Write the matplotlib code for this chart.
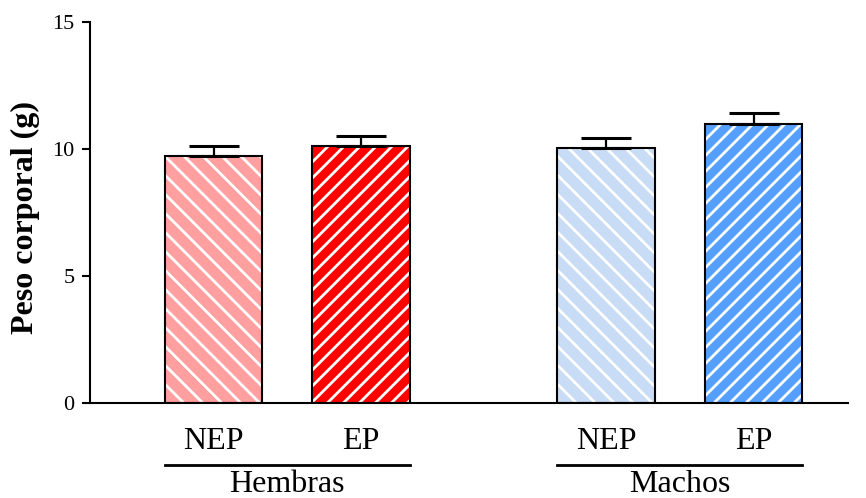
import numpy as np
import matplotlib
matplotlib.use("Agg")
import matplotlib.pyplot as plt
from matplotlib.collections import LineCollection
from matplotlib.transforms import IdentityTransform, blended_transform_factory

# Body weight (g), mean and SEM per group
groups = ["Hembras", "Machos"]
conditions = ["NEP", "EP", "NEP", "EP"]
means = [9.72, 10.12, 10.04, 10.98]
sems = [0.40, 0.40, 0.40, 0.44]
colors = ["#FF9F9F", "#FF0000", "#C8DCF6", "#55A0FF"]

positions = [0.0, 1.0, 2.66, 3.66]
bar_width = 0.66
stripe_dir = [-1, 1, -1, 1]          # -1: "\" stripes, +1: "/" stripes
stripe_step = [19, 16, 19, 16]       # horizontal stripe spacing in pixels

plt.rcParams["font.family"] = ["Liberation Serif", "DejaVu Serif"]

fig = plt.figure(figsize=(8.66, 4.98), dpi=100)
ax = fig.add_axes([90 / 866, 1 - 403 / 498, (848 - 90) / 866, (403 - 22) / 498])
ax.set_xlim(-0.837, 4.30)
ax.set_ylim(0, 15)

bars = ax.bar(positions, means, width=bar_width, color=colors, edgecolor="none",
              linewidth=0, zorder=1)

# White diagonal stripes clipped to each bar
for bar, d, step in zip(bars, stripe_dir, stripe_step):
    (x0, y0), (x1, y1) = ax.transData.transform(
        [(bar.get_x(), 0), (bar.get_x() + bar.get_width(), bar.get_height())])
    w, h = x1 - x0, y1 - y0
    segs = []
    t = -h
    while t < w + h:
        if d > 0:
            segs.append([(x0 + t, y0), (x0 + t + h, y1)])
        else:
            segs.append([(x0 + t, y1), (x0 + t + h, y0)])
        t += step
    lc = LineCollection(segs, colors="white", linewidths=2.0,
                        transform=IdentityTransform(), zorder=2)
    ax.add_collection(lc)
    lc.set_clip_path(bar)

ax.bar(positions, means, width=bar_width, fill=False, edgecolor="black",
       linewidth=1.5, zorder=3)

ax.errorbar(positions, means, yerr=[np.zeros(len(sems)), sems], fmt="none",
            ecolor="black", elinewidth=1.6, capsize=18, capthick=2.2, zorder=4)

# Axes styling
for side in ("top", "right"):
    ax.spines[side].set_visible(False)
ax.spines["left"].set_linewidth(1.5)
ax.spines["bottom"].set_linewidth(1.5)
ax.set_yticks([0, 5, 10, 15])
ax.tick_params(axis="y", direction="out", length=6, width=1.5, pad=5, labelsize=16)
ax.set_xticks(positions)
ax.set_xticklabels(conditions)
ax.tick_params(axis="x", length=0, pad=17, labelsize=23)

ax.set_ylabel("Peso corporal (g)", fontsize=23, fontweight="bold")
ax.yaxis.set_label_coords(-0.066, 0.486)

# Group underlines and names
trans = blended_transform_factory(ax.transData, ax.transAxes)
group_pos = [(positions[0], positions[1]), (positions[2], positions[3])]
for name, (a, b) in zip(groups, group_pos):
    ax.plot([a - bar_width / 2, b + bar_width / 2], [-0.163, -0.163],
            color="black", lw=2, transform=trans, clip_on=False)
    ax.text((a + b) / 2, -0.214, name, transform=trans, ha="center", va="center",
            fontsize=23)

fig.savefig("out.png", dpi=100)
